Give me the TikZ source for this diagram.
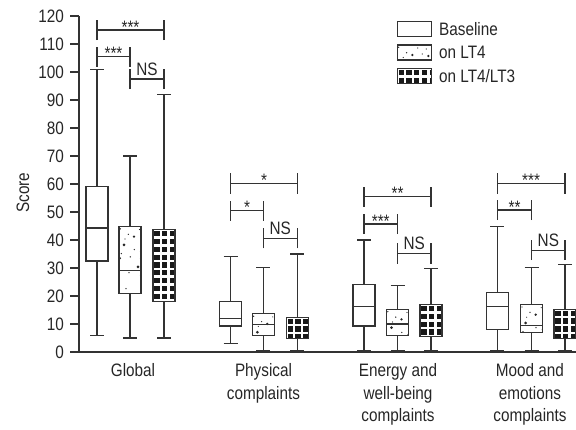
\documentclass[tikz,border=0pt]{standalone}
\usepackage{fontspec}
\setmainfont{Liberation Sans}[FakeStretch=0.85]
\usetikzlibrary{positioning}

\tikzset{
  plotline/.style={draw=black!80, line width=1.1pt},
  lbl/.style={text=black!85, inner sep=0pt, font=\fontsize{18}{22.5}\selectfont},
  ticklabel/.style={lbl, anchor=east},
  catlabel/.style={lbl, anchor=north, align=center},
  starlabel/.style={lbl, anchor=base, yshift=-3.2pt},
  nslabel/.style={lbl, anchor=base, yshift=3.5pt},
  legtext/.style={lbl, anchor=west},
}

% dots of the "on LT4" fill, in px from the top left corner
\newcommand{\dotlist}{1.3/2.3/0.7, 9.3/7.7/0.7, 5/18.3/1.5, 15.3/23/0.7,
  2.3/27/0.7, 11.3/30.3/0.7, 1/31.7/1.1, 22/32/1.1, 19/40.3/1.5,
  10/46/0.7, 7/62/0.7, 21.5/25/0.6, 21.5/49/0.6, 15/10/1.3,
  20.5/3/0.6, 6/12.5/0.6, 25/9/0.6, 29/4/0.6, 31/11/1.3}

% whiskers: x, low, q1, q3, high
\newcommand{\whisk}[5]{%
  \draw[plotline] (#1,#2) -- (#1,#3) (#1,#4) -- (#1,#5)
    (#1-7,#2) -- (#1+7,#2) (#1-7,#5) -- (#1+7,#5);}
\newcommand{\median}[2]{\draw[plotline] (#1-11,#2) -- (#1+11,#2);}

% fills: x left, y top, x right, y bottom
\newcommand{\dotpat}[4]{%
  \begin{scope}
    \clip (#1,#2) rectangle (#3,#4);
    \begin{scope}[shift={(#1,#2)},x=1pt,y=-1pt]
      \foreach \dx/\dy/\r in \dotlist \fill[black!85] (\dx,\dy) circle (\r pt);
    \end{scope}
  \end{scope}
  \draw[plotline] (#1,#2) rectangle (#3,#4);}
\newcommand{\gridpat}[4]{%
  \fill[black!90] (#1,#2) rectangle (#3,#4);
  \begin{scope}
    \clip (#1,#2) rectangle (#3,#4);
    \begin{scope}[shift={(#1,#2)},x=1pt,y=-1pt]
      \foreach \k in {0,...,10} \draw[white,line width=2.5pt] (0,\k*7.8) -- (40,\k*7.8);
      \foreach \k in {0,...,5} \draw[white,line width=2.5pt] (\k*7.8,0) -- (\k*7.8,90);
    \end{scope}
  \end{scope}
  \draw[plotline] (#1,#2) rectangle (#3,#4);}

% boxes: x, q1, q3
\newcommand{\plainbx}[3]{\draw[plotline,fill=white] (#1-11,#3) rectangle (#1+11,#2);}
\newcommand{\dotbx}[3]{\dotpat{#1-11}{#3}{#1+11}{#2}}
\newcommand{\gridbx}[3]{\gridpat{#1-11}{#3}{#1+11}{#2}}

% significance bar: x1, x2, height, label, style, name
\newcommand{\sigbar}[6]{%
  \pgfmathsetmacro{\sbmid}{(#1+#2)/2}
  \draw[plotline] (#1,#3-3.6) -- (#1,#3+3.6) (#1,#3) -- (#2,#3)
    (#2,#3-3.6) -- (#2,#3+3.6);
  \node[#5] (#6) at (\sbmid,#3) {#4};}

\begin{document}
\begin{tikzpicture}[x=1pt,y=1pt]
\useasboundingbox (0,0) rectangle (576,429);

% data coordinates: x in px, y in score units
\begin{scope}[shift={(0,77)},y=2.8pt]
\draw[plotline] (79,120) -- (79,0) -- (576,0);
\foreach \v in {0,10,...,120}{
  \draw[plotline] (70,\v) -- (79,\v);
  \node[ticklabel] (tick\v) at (64,\v) {\v};
}

% Global
\whisk{97}{6}{32.5}{59}{101}    \plainbx{97}{32.5}{59}  \median{97}{44.3}
\whisk{130}{5}{21}{44.8}{70}    \dotbx{130}{21}{44.8}   \median{130}{29}
\whisk{164}{5}{18}{43.6}{92}    \gridbx{164}{18}{43.6}
\sigbar{97}{164}{115}{***}{starlabel}{sgA}
\sigbar{97}{130}{105.5}{***}{starlabel}{sgB}
\sigbar{130}{164}{97.5}{NS}{nslabel}{sgC}

% Physical complaints
\whisk{230.7}{3.1}{9.3}{17.9}{34} \plainbx{230.7}{9.3}{17.9} \median{230.7}{11.9}
\whisk{263.3}{0.5}{6}{13.6}{30.2} \dotbx{263.3}{6}{13.6}    \median{263.3}{9.7}
\whisk{297.3}{0.5}{4.9}{12.4}{35} \gridbx{297.3}{4.9}{12.4}
\sigbar{230.7}{297.3}{60.2}{*}{starlabel}{spA}
\sigbar{230.7}{263.3}{50.5}{*}{starlabel}{spB}
\sigbar{263.3}{297.3}{40.6}{NS}{nslabel}{spC}

% Energy and well-being complaints
\whisk{364}{0.5}{9.3}{24}{40}     \plainbx{364}{9.3}{24}    \median{364}{16.2}
\whisk{397.5}{0.5}{6}{15.2}{23.7} \dotbx{397.5}{6}{15.2}    \median{397.5}{10}
\whisk{431}{0.5}{5.5}{16.9}{29.9} \gridbx{431}{5.5}{16.9}
\sigbar{364}{431}{55.5}{**}{starlabel}{seA}
\sigbar{364}{397.5}{45.7}{***}{starlabel}{seB}
\sigbar{397.5}{431}{35.2}{NS}{nslabel}{seC}

% Mood and emotions complaints
\whisk{497.3}{0.5}{7.9}{21.2}{44.8} \plainbx{497.3}{7.9}{21.2} \median{497.3}{16.2}
\whisk{531.7}{0.5}{6.9}{16.9}{30.1} \dotbx{531.7}{6.9}{16.9}   \median{531.7}{9.4}
\whisk{565}{0.5}{4.9}{15.2}{31.3}   \gridbx{565}{4.9}{15.2}
\sigbar{497.3}{565}{60.2}{***}{starlabel}{smA}
\sigbar{497.3}{531.7}{50.7}{**}{starlabel}{smB}
\sigbar{531.7}{565}{36.4}{NS}{nslabel}{smC}
\end{scope}

% px coordinates, y downwards
\begin{scope}[shift={(0,429)},y=-1pt]
\node[lbl,rotate=90] (score) at (23,192.7) {Score};
\node[catlabel] (cglobal) at (133,363.5) {Global};
\node[catlabel] (cphys) at (263.5,363.5) {Physical\\complaints};
\node[catlabel] (cenergy) at (398,363.5) {Energy and\\well-being\\complaints};
\node[catlabel] (cmood) at (530,363.5) {Mood and\\emotions\\complaints};

% legend
\draw[plotline] (397.3,21.5) rectangle (431.7,36.5);
\dotpat{397.3}{45}{431.7}{60}
\gridpat{397.3}{68.5}{431.7}{83.5}
\node[legtext] (lbase) at (439,29) {Baseline};
\node[legtext] (llt4) at (439,52.5) {on LT4};
\node[legtext] (llt3) at (439,76) {on LT4/LT3};
\end{scope}
\end{tikzpicture}
\end{document}
